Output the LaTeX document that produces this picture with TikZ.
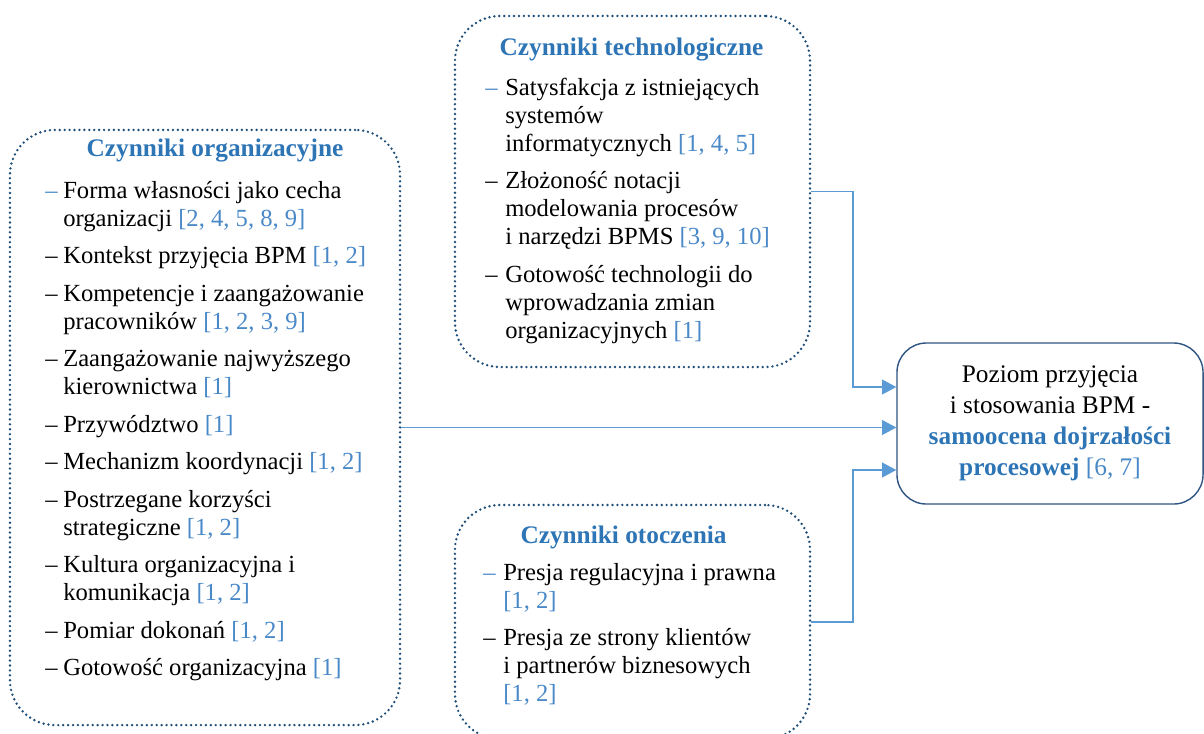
\documentclass[tikz,border=0pt]{standalone}
\usepackage{fontspec}
\setmainfont{Liberation Serif}
\usetikzlibrary{arrows.meta}
\definecolor{headblue}{RGB}{46,117,182}
\definecolor{refblue}{RGB}{74,137,200}
\definecolor{arrowblue}{RGB}{91,155,213}
\definecolor{dotblue}{RGB}{31,78,121}
\definecolor{goalblue}{RGB}{47,85,130}
\newcommand{\rf}[1]{{\color{refblue}[#1]}}
\tikzset{
  >={Triangle[length=10pt,width=10.5pt]},
  factorbox/.style={draw=dotblue, line width=1.9pt, dash pattern=on 0pt off 3.5pt,
    line cap=round, rounded corners=32pt},
  head/.style={font=\fontsize{18}{19.8}\selectfont\bfseries, text=headblue,
    anchor=base, inner sep=0pt},
  item/.style={font=\fontsize{17.5}{19.8}\selectfont, anchor=base west, inner sep=0pt},
  flow/.style={arrowblue, line width=1pt, ->}
}

\begin{document}
\begin{tikzpicture}[x=0.025cm,y=-0.025cm]
  \useasboundingbox (0,0) rectangle (1204,733);
  % boxes
  \node[factorbox, minimum width=9.75cm, minimum height=14.875cm] (orgbox) at (205,427.5) {};
  \node[factorbox, minimum width=8.875cm, minimum height=8.775cm] (techbox) at (632.5,191.5) {};
  \node[factorbox, minimum width=8.875cm, minimum height=5.85cm] (envbox) at (632.5,622) {};
  \node[draw=goalblue, line width=1pt, rounded corners=21pt, minimum width=7.65cm,
    minimum height=4.025cm, align=center, font=\fontsize{18}{22}\selectfont]
    (goal) at (1050,423.5)
    {Poziom przyjęcia\\ i stosowania BPM -\\
     {\bfseries\color{headblue}samoocena dojrzałości}\\
     {\bfseries\color{headblue}procesowej} \rf{6, 7}};

  % organizational factors
  \node[head] (orghead) at (215,156) {Czynniki organizacyjne};
  \foreach \y/\t [count=\i] in {198/{Forma własności jako cecha},
      226/{organizacji \rf{2, 4, 5, 8, 9}},
      263.5/{Kontekst przyjęcia BPM \rf{1, 2}},
      301/{Kompetencje i zaangażowanie},
      329/{pracowników \rf{1, 2, 3, 9}},
      366.5/{Zaangażowanie najwyższego},
      394.5/{kierownictwa \rf{1}},
      432/{Przywództwo \rf{1}},
      469.5/{Mechanizm koordynacji \rf{1, 2}},
      507/{Postrzegane korzyści},
      535/{strategiczne \rf{1, 2}},
      572.5/{Kultura organizacyjna i},
      600.5/{komunikacja \rf{1, 2}},
      638/{Pomiar dokonań \rf{1, 2}},
      675.5/{Gotowość organizacyjna \rf{1}}}
    \node[item] (org\i) at (63,\y) {\t};
  \node[item, text=refblue] (orgdash0) at (45,198) {--};
  \foreach \y [count=\i] in {263.5,301,366.5,432,469.5,507,572.5,638,675.5}
    \node[item] (orgdash\i) at (45,\y) {--};

  % technological factors
  \node[head] (techhead) at (631.5,55) {Czynniki technologiczne};
  \foreach \y/\t [count=\i] in {95/{Satysfakcja z istniejących},
      123/{systemów},
      151/{informatycznych \rf{1, 4, 5}},
      188.5/{Złożoność notacji},
      216.5/{modelowania procesów},
      244.5/{i narzędzi BPMS \rf{3, 9, 10}},
      282/{Gotowość technologii do},
      310/{wprowadzania zmian},
      338/{organizacyjnych \rf{1}}}
    \node[item] (tech\i) at (505,\y) {\t};
  \node[item, text=refblue] (techdash0) at (485,95) {--};
  \foreach \y [count=\i] in {188.5,282}
    \node[item] (techdash\i) at (485,\y) {--};

  % environmental factors
  \node[head] (envhead) at (623.5,543) {Czynniki otoczenia};
  \foreach \y/\t [count=\i] in {580/{Presja regulacyjna i prawna},
      608/{\rf{1, 2}},
      645.5/{Presja ze strony klientów},
      673.5/{i partnerów biznesowych},
      701.5/{\rf{1, 2}}}
    \node[item] (env\i) at (503,\y) {\t};
  \node[item, text=refblue] (envdash0) at (483,580) {--};
  \node[item] (envdash1) at (483,645.5) {--};

  % connectors
  \coordinate (techbend) at (853,387);
  \coordinate (envbend) at (853,470);
  \draw[flow] (techbox.east) -| (techbend) -- (techbend -| goal.west);
  \draw[flow] (orgbox.east) -- (orgbox.east -| goal.west);
  \draw[flow] (envbox.east) -| (envbend) -- (envbend -| goal.west);
\end{tikzpicture}
\end{document}
